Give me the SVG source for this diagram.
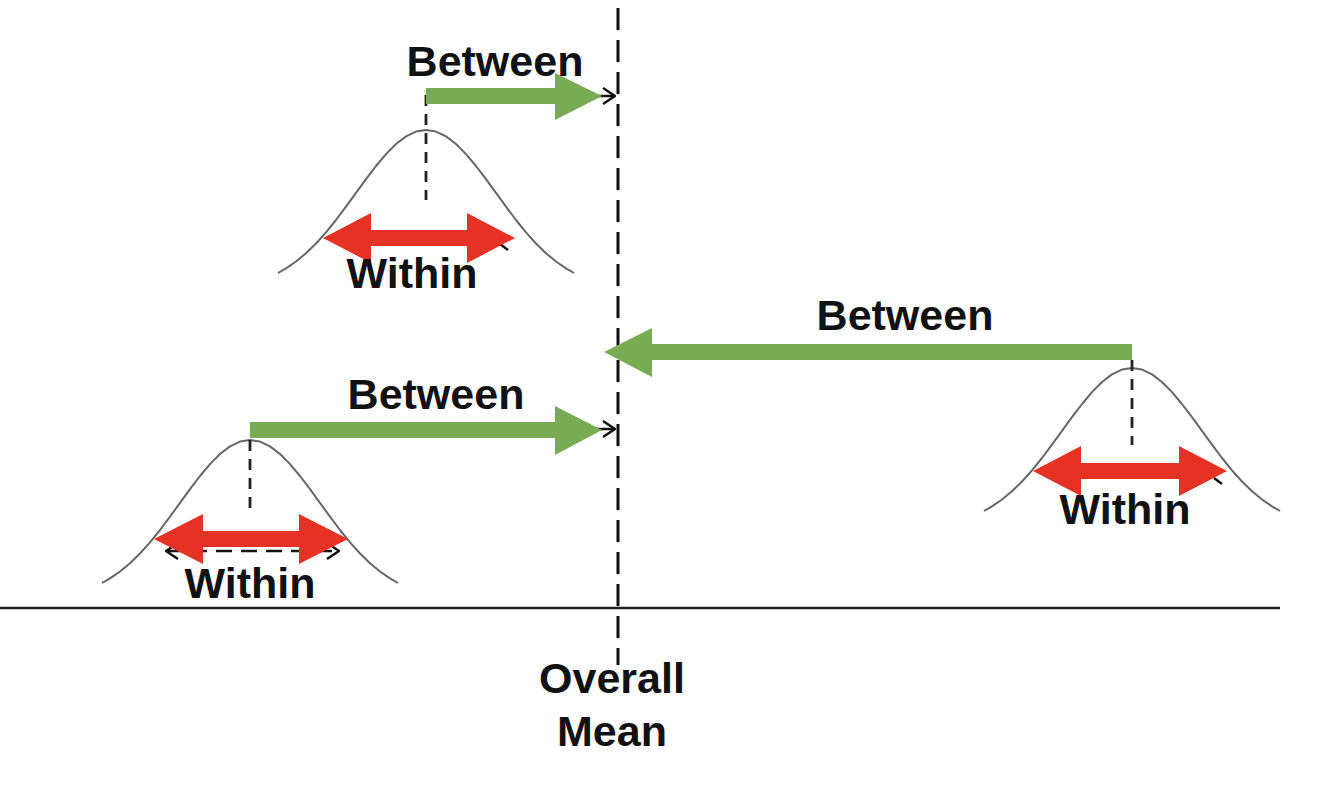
<svg xmlns="http://www.w3.org/2000/svg" width="1334" height="786" viewBox="0 0 1334 786">
<style>
.lbl{font-family:"Liberation Sans",Arial,sans-serif;font-weight:bold;font-size:43px;fill:#111;text-anchor:middle}
.curve{fill:none;stroke:#666;stroke-width:2;stroke-linejoin:round}
.mean{stroke:#222;stroke-width:2.8;stroke-dasharray:11 8;fill:none}
.within{fill:#E63224}
.between{fill:#79AC52}
.thin{stroke:#111;stroke-width:2.5;fill:none}
</style>
<defs>
<path id="bell" d="M -148,143 L -140,138.3 -130,131.5 -120,123.2 -110,113.5 -100,102.3 -90,90 -80,76.7 -70,62.9 -60,49.2 -50,36 -40,24.1 -30,14 -20,6.4 -10,1.6 0,0 10,1.6 20,6.4 30,14 40,24.1 50,36 60,49.2 70,62.9 80,76.7 90,90 100,102.3 110,113.5 120,123.2 130,131.5 140,138.3 148,143"/>
<marker id="chev" viewBox="0 0 14 18" refX="13" refY="9" markerWidth="14" markerHeight="18" markerUnits="userSpaceOnUse" orient="auto-start-reverse">
<path d="M1,1 L13,9 L1,17" fill="none" stroke="#111" stroke-width="2.5"/>
</marker>
</defs>
<rect width="1334" height="786" fill="#fff"/>

<g id="axis">
<line x1="0" y1="608" x2="1280" y2="608" stroke="#222" stroke-width="2.5"/>
</g>

<g id="overall-mean">
<line x1="618" y1="8" x2="618" y2="665" stroke="#111" stroke-width="3" stroke-dasharray="22 10"/>
<text class="lbl" x="612" y="693">Overall</text>
<text class="lbl" x="612" y="746">Mean</text>
</g>

<g id="group1">
<use href="#bell" class="curve" transform="translate(426,130)"/>
<line class="mean" x1="426" y1="95" x2="426" y2="200"/>
<line class="thin" x1="500" y1="244" x2="508" y2="250"/>
<polygon class="within" points="323,238 371,213 371,230 467,230 467,213 515,238 467,263 467,246 371,246 371,263"/>
<text class="lbl" x="412" y="288">Within</text>
</g>

<g id="group2">
<use href="#bell" class="curve" transform="translate(250,440)"/>
<line class="mean" x1="250" y1="440" x2="250" y2="515"/>
<line class="thin" x1="166" y1="551" x2="339" y2="551" stroke-dasharray="16 9" stroke-width="3" marker-start="url(#chev)" marker-end="url(#chev)"/>
<polygon class="within" points="154,539 203,514 203,531 299,531 299,514 348,539 299,564 299,547 203,547 203,564"/>
<text class="lbl" x="250" y="598">Within</text>
</g>

<g id="group3">
<use href="#bell" class="curve" transform="translate(1132,368)"/>
<line class="mean" x1="1132" y1="360" x2="1132" y2="445"/>
<line class="thin" x1="1214" y1="478" x2="1222" y2="484"/>
<polygon class="within" points="1033,471 1081,446 1081,463 1179,463 1179,446 1227,471 1179,496 1179,479 1081,479 1081,496"/>
<text class="lbl" x="1125" y="524">Within</text>
</g>

<g id="connectors">
<line class="thin" x1="430" y1="96" x2="615" y2="96" marker-end="url(#chev)"/>
<polygon class="between" points="426,88 555,88 555,73 602,96 555,120 555,104 426,104"/>
<text class="lbl" x="495" y="76">Between</text>

<line class="thin" x1="254" y1="429" x2="615" y2="429" marker-end="url(#chev)"/>
<polygon class="between" points="250,422 555,422 555,406 602,430 555,455 555,438 250,438"/>
<text class="lbl" x="436" y="409">Between</text>

<polygon class="between" points="1132,344 652,344 652,328 604,352 652,377 652,360 1132,360"/>
<text class="lbl" x="905" y="330">Between</text>
</g>
</svg>
